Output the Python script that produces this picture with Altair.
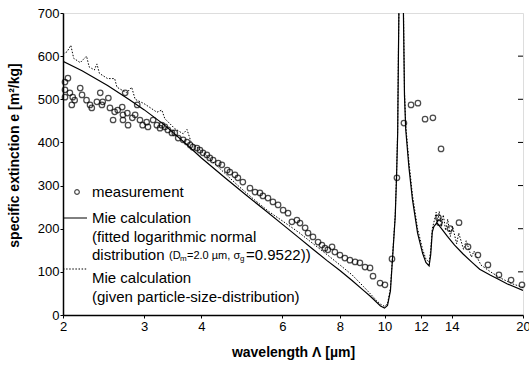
import altair as alt
import pandas as pd

# measured specific extinction (open circles)
meas_wl = [2.02, 2.05, 2.02, 2.02, 2.07, 2.10, 2.09, 2.12, 2.18, 2.20, 2.25, 2.29, 2.31, 2.37, 2.41,
           2.43, 2.44, 2.51, 2.53, 2.59, 2.57, 2.63, 2.69, 2.70, 2.73, 2.70, 2.76, 2.77, 2.83, 2.87,
           2.90, 2.94, 2.98, 3.04, 3.06, 3.14, 3.20, 3.25, 3.28, 3.33, 3.38, 3.45, 3.50, 3.56, 3.65,
           3.72, 3.78, 3.83, 3.91, 3.97, 4.03, 4.11, 4.17, 4.24, 4.35, 4.43, 4.55, 4.61, 4.73, 4.80,
           4.92, 5.10, 5.23, 5.36, 5.44, 5.58, 5.72, 5.87, 6.02, 6.17, 6.29, 6.45, 6.55, 6.72, 6.82,
           6.99, 7.17, 7.31, 7.42, 7.53, 7.69, 7.80, 8.00, 8.20, 8.41, 8.63, 8.84, 9.07, 9.30, 9.44,
           9.78, 10.02, 10.38, 10.64, 11.02, 11.42, 11.82, 12.25, 12.74, 13.27, 13.10, 13.16, 13.88,
           14.52, 15.19, 15.96, 16.78, 17.73, 18.84, 19.90]
meas_e = [540, 549, 522, 505, 515, 505, 487, 498, 526, 510, 498, 487, 480, 494, 515,
          487, 494, 503, 480, 471, 452, 475, 482, 464, 515, 452, 468, 440, 457, 464,
          487, 452, 440, 447, 436, 452, 440, 433, 440, 436, 429, 422, 422, 410, 406,
          401, 394, 389, 387, 382, 376, 371, 364, 359, 352, 348, 336, 331, 325, 318,
          308, 294, 285, 283, 276, 271, 262, 255, 243, 236, 216, 220, 213, 202, 190,
          181, 169, 162, 155, 151, 158, 146, 139, 132, 127, 123, 121, 111, 109, 90,
          74, 70, 130, 318, 445, 487, 491, 454, 457, 385, 225, 214, 200,
          214, 158, 139, 116, 93, 81, 70]

# Mie calculation, fitted log-normal distribution (solid)
fit_wl = [2.0, 2.2, 2.5, 2.8, 3.0, 3.3, 3.7, 4.0, 4.5, 5.0, 5.5, 6.0, 6.5, 7.0, 7.5, 8.0, 8.5,
          9.0, 9.3, 9.6, 9.8, 10.0, 10.15, 10.3, 10.4, 10.55, 10.62, 10.68, 10.72, 10.76, 10.85,
          10.98, 11.05, 11.12, 11.3, 11.5, 11.8, 12.1, 12.3, 12.5, 12.6, 12.7, 12.8, 13.0, 13.3,
          13.7, 14.2, 14.8, 15.5, 16.1, 17.0, 17.6, 18.5, 20.0]
fit_e = [588, 566, 532, 498, 476, 443, 397, 364, 318, 278, 243, 210, 180, 152, 126, 103, 80,
         57, 44, 30, 21, 16, 22, 56, 125, 228, 320, 420, 600, 760, 900,
         740, 510, 430, 342, 268, 190, 143, 122, 114, 140, 192, 205, 214, 200,
         182, 162, 142, 122, 106, 92, 84, 72, 57]

# Mie calculation, given particle-size distribution (dotted)
given_wl = [2.00, 2.04, 2.08, 2.11, 2.18, 2.25, 2.28, 2.34, 2.37, 2.40, 2.50, 2.59, 2.62, 2.75,
            2.82, 2.87, 3.00, 3.10, 3.20, 3.28, 3.33, 3.5, 3.65, 3.72, 3.8, 4.0, 4.4, 4.8, 5.2,
            5.6, 6.0, 6.5, 7.0, 7.5, 8.0, 8.5, 9.0, 9.3, 9.6, 9.8, 10.0, 10.15, 10.3, 10.4, 10.55,
            10.62, 10.68, 10.72, 10.76, 10.85, 10.98, 11.05, 11.12, 11.3, 11.5, 11.8, 12.1, 12.3,
            12.5, 12.6, 12.7, 12.85, 12.95, 13.05, 13.15, 13.3, 13.42, 13.58, 13.72, 13.9, 14.05,
            14.35, 14.5, 14.85, 15.05, 15.45, 15.65, 16.2, 17.0, 18.0, 19.0, 20.0]
given_e = [605, 610, 625, 595, 585, 600, 575, 568, 582, 560, 548, 548, 528, 515,
           528, 500, 490, 480, 470, 475, 455, 432, 420, 430, 400, 380, 338, 300, 268,
           240, 218, 192, 165, 140, 116, 93, 66, 50, 34, 25, 20, 26, 62, 130, 232,
           325, 430, 610, 760, 900, 760, 520, 440, 355, 278, 200, 152, 130,
           122, 150, 200, 222, 238, 215, 240, 205, 232, 196, 222, 182, 206,
           165, 190, 152, 172, 134, 148, 116, 100, 84, 72, 64]

x_ticks = [2, 3, 4, 6, 8, 10, 12, 14, 20]
y_ticks = [0, 100, 200, 300, 400, 500, 600, 700]
inner_ticks = [100, 200, 300, 400, 500, 600]

FONT = "Liberation Sans"
W, H = 460, 302

meas = pd.DataFrame({"wl": meas_wl, "e": meas_e})
fit = pd.DataFrame({"wl": fit_wl, "e": fit_e})
given = pd.DataFrame({"wl": given_wl, "e": given_e})

x_enc = alt.X(
    "wl:Q",
    scale=alt.Scale(type="log", domain=[2, 20], nice=False),
    axis=alt.Axis(
        values=x_ticks, title="wavelength Λ [µm]", format="d",
        titleFontWeight="bold", titleFontSize=14, titleFont=FONT,
        titleX=W / 2, titleY=37, titleBaseline="middle",
        labelFont=FONT, labelFontSize=13, labelColor="black",
        tickSize=3, labelPadding=2, tickColor="black",
        domainColor="black", domainWidth=1.5, grid=False, labelFlush=False,
    ),
)
y_enc = alt.Y(
    "e:Q",
    scale=alt.Scale(domain=[0, 700], nice=False),
    axis=alt.Axis(
        values=y_ticks, title="specific extinction e [m²/kg]",
        titleFontWeight="bold", titleFontSize=14, titleFont=FONT,
        titleX=-49, titleY=142, titleBaseline="middle", titleAngle=-90,
        labelFont=FONT, labelFontSize=13, labelColor="black",
        tickSize=3, labelPadding=1, tickColor="black",
        domainColor="black", domainWidth=1.5, grid=False,
    ),
)

fit_line = alt.Chart(fit).mark_line(color="black", strokeWidth=1.2, clip=True).encode(
    x=x_enc, y=y_enc, order="wl:Q")
given_line = alt.Chart(given).mark_line(
    color="black", strokeWidth=1, strokeDash=[1.5, 1.6], clip=True).encode(
    x="wl:Q", y="e:Q", order="wl:Q")
points = alt.Chart(meas).mark_point(
    shape="circle", filled=False, color="black", size=30, strokeWidth=1.25).encode(
    x="wl:Q", y="e:Q")

right_ticks = alt.Chart(pd.DataFrame({"e": inner_ticks})).mark_rule(
    color="black", strokeWidth=1).encode(
    y="e:Q", x=alt.value(W - 5), x2=alt.value(W))


def label(text, x, y, size=15):
    return alt.Chart(alt.Data(values=[{}])).mark_text(
        text=text, align="left", baseline="middle", font=FONT, fontSize=size,
        color="black").encode(x=alt.value(x), y=alt.value(y))


def sample(y, dash=None):
    kw = {"strokeDash": dash} if dash else {}
    return alt.Chart(alt.Data(values=[{}])).mark_rule(
        color="black", strokeWidth=1, **kw).encode(
        x=alt.value(0), x2=alt.value(24), y=alt.value(y))


legend_marker = alt.Chart(alt.Data(values=[{}])).mark_point(
    shape="circle", filled=False, color="black", size=22, strokeWidth=1.2).encode(
    x=alt.value(14), y=alt.value(179))

legend = [
    legend_marker,
    label("measurement", 29, 179),
    sample(205),
    label("Mie calculation", 29, 205),
    label("(fitted logarithmic normal", 29, 224),
    label("distribution", 29, 242),
    label("(D", 106, 243, 11),
    label("m", 117, 246, 8),
    label("=2.0 µm, σ", 124, 243, 11),
    label("g", 177, 246, 8),
    label("=0.9522))", 183, 242),
    sample(256, [1.5, 1.6]),
    label("Mie calculation", 29, 265),
    label("(given particle-size-distribution)", 29, 284),
]

chart = alt.layer(fit_line, given_line, points, right_ticks, *legend).properties(
    width=W, height=H,
    autosize=alt.AutoSizeParams(type="none"),
    padding={"left": 63, "top": 13, "right": 6, "bottom": 51},
).configure_view(stroke="black", strokeWidth=1.5).configure(background="white")

chart.save("out.html", embed_options={"renderer": "svg", "actions": False})
